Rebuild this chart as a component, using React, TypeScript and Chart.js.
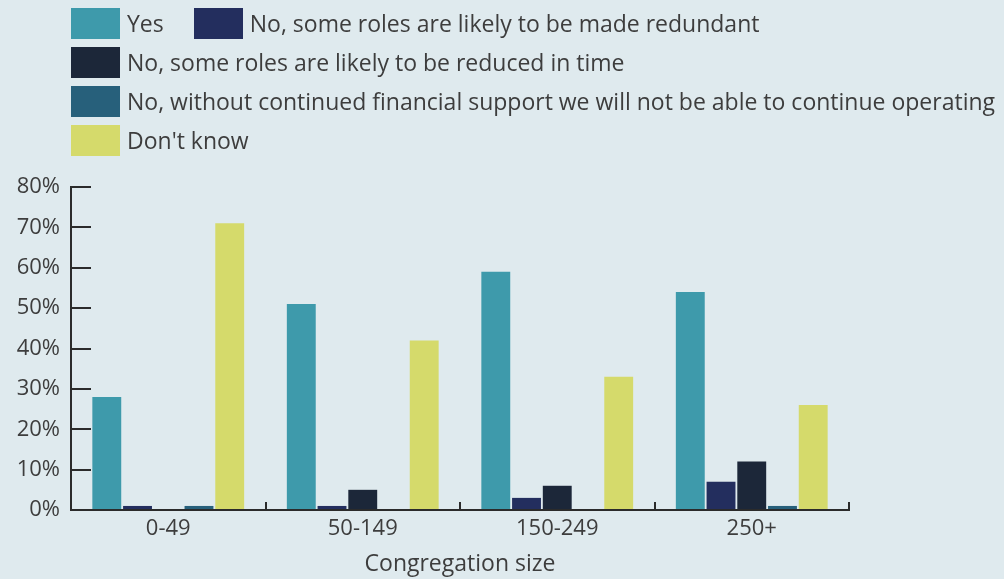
import React, { useEffect, useRef } from "react";
import { Chart, registerables } from "chart.js";

Chart.register(...registerables);

const categories = ["0-49", "50-149", "150-249", "250+"];
const seriesLabels = [
  "Yes",
  "No, some roles are likely to be made redundant",
  "No, some roles are likely to be reduced in time",
  "No, without continued financial support we will not be able to continue operating",
  "Don't know",
];
const seriesColors = ["#3e9aab", "#232e5e", "#1c2739", "#27607b", "#d5da6b"];
const yesValues = [28, 51, 59, 54];
const redundantValues = [1, 1, 3, 7];
const reducedValues = [0, 5, 6, 12];
const financialValues = [1, 0, 0, 1];
const dontKnowValues = [71, 42, 33, 26];
const yMin = 0;
const yMax = 80;
const yStep = 10;
const xTitle = "Congregation size";

const FONT = "'Open Sans', 'Noto Sans', sans-serif";
const TEXT = "#3d3d3d";
const AXIS = "#2b2b2b";
const BG = "#dfeaee";

export default function App() {
  const ref = useRef<HTMLCanvasElement | null>(null);

  useEffect(() => {
    if (!ref.current) return;
    const values = [yesValues, redundantValues, reducedValues, financialValues, dontKnowValues];
    const chart = new Chart(ref.current, {
      type: "bar",
      data: {
        labels: categories,
        datasets: seriesLabels.map((label, i) => ({
          label,
          data: values[i],
          backgroundColor: seriesColors[i],
          borderWidth: 0,
          barPercentage: 0.94,
          categoryPercentage: 0.79,
        })),
      },
      options: {
        responsive: false,
        animation: false,
        layout: { padding: { left: 8, right: 155, top: 187, bottom: 0 } },
        plugins: {
          legend: { display: false },
          title: { display: false },
          tooltip: { enabled: false },
        },
        scales: {
          x: {
            afterFit: (scale: any) => {
              scale.height = 69;
            },
            grid: {
              display: true,
              drawOnChartArea: false,
              offset: true,
              tickLength: -8,
              color: AXIS,
              lineWidth: 2,
            },
            border: { display: true, color: AXIS, width: 2 },
            ticks: {
              color: TEXT,
              font: { family: FONT, size: 22 },
              padding: 14,
            },
            title: {
              display: true,
              text: xTitle,
              color: TEXT,
              font: { family: FONT, size: 23 },
              padding: { top: 0, bottom: 1 },
            },
          },
          y: {
            min: yMin,
            max: yMax,
            afterFit: (scale: any) => {
              scale.width = 63;
            },
            grid: {
              display: true,
              drawOnChartArea: false,
              tickLength: -20,
              color: AXIS,
              lineWidth: 2,
            },
            border: { display: true, color: AXIS, width: 2 },
            ticks: {
              stepSize: yStep,
              color: TEXT,
              font: { family: FONT, size: 22 },
              padding: 31,
              callback: (v: any) => v + "%",
            },
          },
        },
      },
    });
    return () => chart.destroy();
  }, []);

  return (
    <div style={{ position: "fixed", left: 0, top: 0, width: 1004, height: 579, background: BG, overflow: "hidden" }}>
      <canvas ref={ref} width={1004} height={579} style={{ position: "absolute", left: 0, top: 0, width: 1004, height: 579 }} />
      <div
        style={{
          position: "absolute",
          left: 71,
          top: 8,
          width: 933,
          display: "flex",
          flexWrap: "wrap",
          columnGap: 30,
          rowGap: 8,
          fontFamily: FONT,
          fontSize: 23,
          color: TEXT,
        }}
      >
        {seriesLabels.map((label, i) => (
          <div key={label} style={{ display: "flex", alignItems: "center", whiteSpace: "nowrap", height: 31 }}>
            <span style={{ display: "inline-block", width: 49, height: 31, background: seriesColors[i], marginRight: 7, flex: "none" }} />
            <span style={{ lineHeight: "31px" }}>{label}</span>
          </div>
        ))}
      </div>
    </div>
  );
}
